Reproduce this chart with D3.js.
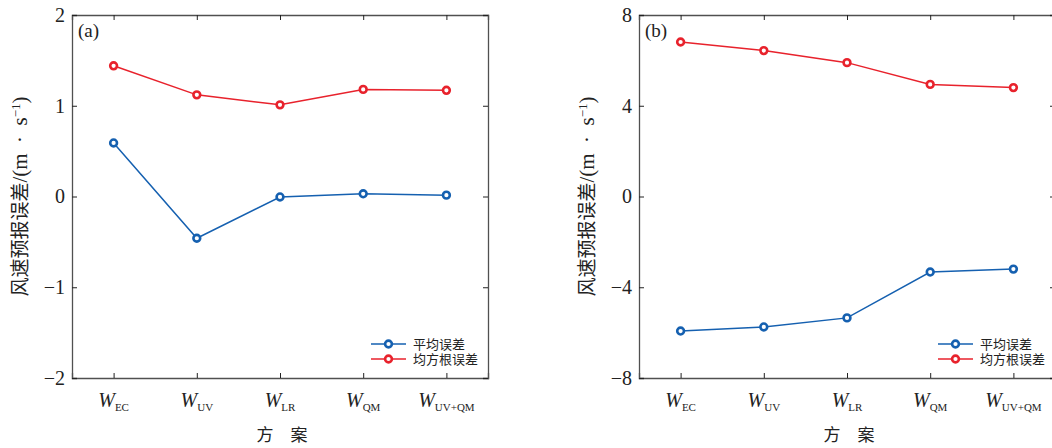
<!DOCTYPE html>
<html>
<head>
<meta charset="utf-8">
<script src="https://cdn.jsdelivr.net/npm/d3@7"></script>
<style>
body { margin: 0; background: #fff; }
text { font-family: "Liberation Serif", "Times New Roman", "Noto Sans CJK SC", serif; }
</style>
</head>
<body>
<svg id="chart" width="1052" height="448"></svg>
<script>
// 数据
var schemes = ["EC", "UV", "LR", "QM", "UV+QM"];
var meA = [0.59, -0.46, -0.005, 0.03, 0.015];
var rmseA = [1.44, 1.12, 1.01, 1.18, 1.17];
var meB = [-5.93, -5.75, -5.35, -3.33, -3.2];
var rmseB = [6.81, 6.43, 5.9, 4.94, 4.8];
var ticksA = [-2, -1, 0, 1, 2];
var ticksB = [-8, -4, 0, 4, 8];
var legendNames = ["平均误差", "均方根误差"];
var colors = ["#1560b0", "#e8222c"];

var svg = d3.select("#chart");
var W = 416, H = 363, top0 = 15;
var axisColor = "#505050";

function panel(left, tag, me, rmse, yTicks) {
  var g = svg.append("g").attr("transform", "translate(" + left + "," + top0 + ")");
  var x = d3.scaleLinear().domain([0.5, 5.5]).range([0, W]);
  var y = d3.scaleLinear().domain([yTicks[0], yTicks[yTicks.length - 1]]).range([H, 0]);
  var idx = schemes.map(function(d, i) { return i + 1; });

  // 坐标轴 (四边, 刻度朝内)
  g.append("g").attr("transform", "translate(0," + H + ")")
    .call(d3.axisBottom(x).tickValues(idx).tickSize(-5).tickFormat(""));
  g.append("g").call(d3.axisTop(x).tickValues(idx).tickSize(-5).tickFormat(""));
  g.append("g").call(d3.axisLeft(y).tickValues(yTicks).tickSize(-5).tickPadding(7).tickFormat(d3.format("d")))
    .selectAll("text").style("font-size", "20px");
  g.append("g").attr("transform", "translate(" + W + ",0)")
    .call(d3.axisRight(y).tickValues(yTicks).tickSize(-5).tickFormat(""));
  g.selectAll(".domain").attr("stroke", axisColor).attr("stroke-width", 1.3);
  g.selectAll(".tick line").attr("stroke", "#222");
  g.selectAll(".tick text").attr("fill", "#222");

  // x 刻度标签 W 加下标
  idx.forEach(function(v, i) {
    var t = g.append("text").attr("x", x(v)).attr("y", H + 29)
      .attr("text-anchor", "middle").attr("fill", "#222");
    t.append("tspan").attr("font-style", "italic").style("font-size", "20px").text("W");
    t.append("tspan").attr("dy", 4).style("font-size", "11px").text(schemes[i]);
  });

  // 轴标题
  g.append("text").attr("x", W / 2 + 2).attr("y", H + 63).attr("text-anchor", "middle")
    .style("font-size", "17px").attr("fill", "#222").text("方\u2003案");
  var yl = g.append("text").attr("transform", "translate(" + (-45) + "," + (H / 2) + ") rotate(-90)")
    .attr("text-anchor", "middle").attr("fill", "#222").style("font-size", "19px");
  yl.append("tspan").text("风速预报误差");
  yl.append("tspan").style("font-size", "21px").text("/(m\u2002·\u2002s");
  yl.append("tspan").attr("dy", -7).style("font-size", "13px").text("−1");
  yl.append("tspan").attr("dy", 7).style("font-size", "21px").text(")");

  g.append("text").attr("x", 6).attr("y", 22).style("font-size", "19px")
    .attr("fill", "#222").text(tag);

  // 折线
  var line = d3.line().x(function(d, i) { return x(i + 1); }).y(function(d) { return y(d); });
  [me, rmse].forEach(function(s, k) {
    g.append("path").datum(s).attr("d", line).attr("fill", "none")
      .attr("stroke", colors[k]).attr("stroke-width", 1.5);
    g.selectAll(".pt" + k).data(s).enter().append("circle")
      .attr("cx", function(d, i) { return x(i + 1); }).attr("cy", function(d) { return y(d); })
      .attr("r", 3.4).attr("fill", "#fff").attr("stroke", colors[k]).attr("stroke-width", 2.6);
  });

  // 图例
  legendNames.forEach(function(n, k) {
    var ly = H - 34 + k * 15;
    var lx = W - 117;
    g.append("line").attr("x1", lx).attr("x2", lx + 35).attr("y1", ly).attr("y2", ly)
      .attr("stroke", colors[k]).attr("stroke-width", 1.5);
    g.append("circle").attr("cx", lx + 17.5).attr("cy", ly).attr("r", 3.4)
      .attr("fill", "#fff").attr("stroke", colors[k]).attr("stroke-width", 2.6);
    g.append("text").attr("x", lx + 42).attr("y", ly + 5).style("font-size", "13px")
      .attr("fill", "#222").text(n);
  });
}

panel(72, "(a)", meA, rmseA, ticksA);
panel(639, "(b)", meB, rmseB, ticksB);
</script>
</body>
</html>
